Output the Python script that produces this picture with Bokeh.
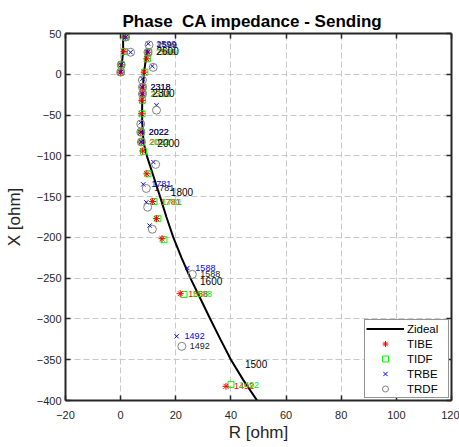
from bokeh.plotting import figure
from bokeh.models import (ColumnDataSource, LinearAxis, Range1d, Legend, LegendItem,
                          FixedTicker)
from bokeh.embed import file_html
from bokeh.resources import INLINE
from bokeh.core.properties import value

# ---------------- data ----------------
x_ticks = [-20, 0, 20, 40, 60, 80, 100, 120]
y_ticks = [-400, -350, -300, -250, -200, -150, -100, -50, 0, 50]

# ideal impedance curve (two visible branches)
zideal_R_a = [1.0, 0.9, 0.9, 0.6, 0.2, 0.0]
zideal_X_a = [50, 40, 28, 18, 10, 2]
zideal_R_b = [9.8, 9.2, 8.6, 8.2, 7.9, 7.8, 7.8, 8.0, 8.4, 9.5, 11.9, 14.3, 16.6, 19.1,
              22.1, 25.3, 28.9, 32.5, 36.2, 40.0, 44.5, 49.5]
zideal_X_b = [32, 20, 5, -10, -25, -40, -55, -70, -85, -100, -125, -150, -175, -200,
              -225, -250, -275, -300, -325, -350, -375, -400]
zideal_lbl = ["2600", "2300", "2000", "1800", "1600", "1500"]
zideal_lbl_R = [10.1, 8.6, 10.4, 15.3, 25.9, 42.2]
zideal_lbl_X = [29, -23, -84, -144, -253, -355]

TIBE_R = [1.8, 1.2, 0.2, 0.0, 9.9, 9.5, 8.5, 7.9, 7.9, 7.7, 7.6, 7.3, 7.5, 8.0, 9.5, 11.6, 13.0, 15.0, 21.6, 38.2]
TIBE_X = [45.5, 28, 11.6, 2.6, 27, 19, 2.6, -15.8, -24, -32, -48.4, -71, -83, -94, -122, -156, -177, -201.6, -269, -382.6]
TIDF_R = [1.9, 1.4, 0.3, 0.1, 10.2, 9.7, 8.8, 8.1, 8.1, 7.9, 7.8, 7.5, 7.7, 8.3, 9.9, 12.1, 13.5, 15.7, 23.0, 40.0]
TIDF_X = [45.5, 28, 11.6, 2.6, 27, 19, 2.6, -15.8, -24, -32, -48.4, -71, -83, -94.5, -122, -156, -177, -202.8, -270, -380.5]
TRBE_R = [1.8, 3.6, 0.2, 0.0, 10.0, 9.9, 11.5, 7.9, 7.9, 7.9, 13.0, 7.3, 7.3, 7.5, 11.9, 8.2, 9.3, 10.5, 24.2, 20.3]
TRBE_X = [45.5, 27, 11.6, 2.6, 37.5, 27, 10, -5.5, -15.8, -24, -38, -59, -71, -83, -107.7, -135, -157, -185.5, -237.6, -321.3]
TRDF_R = [1.8, 3.6, 0.2, 0.0, 10.3, 9.9, 11.8, 7.9, 7.9, 7.9, 13.0, 7.3, 7.3, 7.5, 12.7, 9.3, 9.8, 11.5, 26.0, 22.2]
TRDF_X = [45.5, 27, 11.6, 2.6, 36, 27, 8.5, -7, -15.8, -24, -44, -61, -71, -83, -110.5, -140, -163, -190, -245.3, -333.6]

label_idx = [4, 8, 12, 15, 18, 19]
label_txt = ["2599", "2318", "2022", "1781", "1588", "1492"]

title_text = "Phase\u00a0\u00a0CA impedance - Sending"

# ---------------- figure ----------------
FONT = "Liberation Sans"
AX = "#262626"

p = figure(width=459, height=447, x_range=Range1d(-20, 120), y_range=Range1d(-400, 50),
           output_backend="svg", toolbar_location=None,
           min_border_left=65, min_border_right=8, min_border_top=33, min_border_bottom=47)
p.outline_line_color = None
p.background_fill_color = "white"
p.border_fill_color = "white"

p.title.text = title_text
p.title.text_font = FONT
p.title.text_font_size = "17px"
p.title.text_font_style = "bold"
p.title.text_color = "black"
p.title.align = "left"
p.title.offset = 57
p.title.standoff = 5

for ax, ticks in ((p.xaxis[0], x_ticks), (p.yaxis[0], y_ticks)):
    ax.ticker = FixedTicker(ticks=ticks)
    ax.major_tick_in = 5
    ax.major_tick_out = 0
    ax.minor_tick_line_color = None
    ax.axis_line_width = 2
    ax.axis_line_color = AX
    ax.major_tick_line_color = AX
    ax.major_tick_line_width = 1.5
    ax.major_label_text_font = FONT
    ax.major_label_text_font_size = "11px"
    ax.major_label_text_color = AX
    ax.axis_label_text_font = FONT
    ax.axis_label_text_font_size = "17px"
    ax.axis_label_text_font_style = "normal"
    ax.axis_label_text_color = AX

p.xaxis.axis_label = "R [ohm]"
p.yaxis.axis_label = "X [ohm]"
p.xaxis.major_label_standoff = 10
p.xaxis.axis_label_standoff = 1
p.yaxis.major_label_standoff = 4
p.yaxis.axis_label_standoff = 10

for loc, ticks in (("above", x_ticks), ("right", y_ticks)):
    ax = LinearAxis(ticker=FixedTicker(ticks=ticks), major_tick_in=5, major_tick_out=0,
                    minor_tick_line_color=None, axis_line_width=2, axis_line_color=AX,
                    major_tick_line_color=AX, major_tick_line_width=1.5,
                    major_label_text_color=None, major_label_text_font_size="1px",
                    major_label_standoff=0)
    p.add_layout(ax, loc)

p.xgrid.ticker = FixedTicker(ticks=x_ticks)
p.ygrid.ticker = FixedTicker(ticks=y_ticks)
p.grid.grid_line_color = "#c8c8c8"
p.grid.grid_line_dash = "6 3"
p.grid.grid_line_width = 1

# ---------------- glyphs ----------------
l_a = p.line(zideal_R_a, zideal_X_a, line_color="black", line_width=2)
l_b = p.line(zideal_R_b, zideal_X_b, line_color="black", line_width=2)

r_tidf = p.scatter(TIDF_R, TIDF_X, marker="square", size=6, fill_color=None,
                   line_color="#00ff00", line_width=1)
r_tibe = p.scatter(TIBE_R, TIBE_X, marker="asterisk", size=7, line_color="#ff0000",
                   line_width=1)
r_trbe = p.scatter(TRBE_R, TRBE_X, marker="x", size=6, line_color="#0000ff", line_width=1)
r_trdf = p.scatter(TRDF_R, TRDF_X, marker="circle", size=8, fill_color=None,
                   line_color="#808080", line_width=1)

def lbl_src(R, X):
    return ColumnDataSource(dict(x=[R[i] for i in label_idx], y=[X[i] for i in label_idx],
                                 t=label_txt))

for R, X, col in ((TIBE_R, TIBE_X, "#ff0000"), (TIDF_R, TIDF_X, "#00e600"),
                  (TRBE_R, TRBE_X, "#0000ff"), (TRDF_R, TRDF_X, "#1a1a1a")):
    p.text(x="x", y="y", text="t", source=lbl_src(R, X), x_offset=8,
           text_baseline="middle", text_font=value(FONT), text_font_size="9px",
           text_color=col)

p.text(x=zideal_lbl_R, y=zideal_lbl_X, text=zideal_lbl, x_offset=8,
       text_baseline="middle", text_font=value(FONT), text_font_size="10px",
       text_color="black")

# ---------------- legend ----------------
legend = Legend(items=[LegendItem(label="Zideal", renderers=[l_b]),
                       LegendItem(label="TIBE", renderers=[r_tibe]),
                       LegendItem(label="TIDF", renderers=[r_tidf]),
                       LegendItem(label="TRBE", renderers=[r_trbe]),
                       LegendItem(label="TRDF", renderers=[r_trdf])],
                location="bottom_right")
legend.border_line_color = AX
legend.border_line_width = 1
legend.background_fill_color = "white"
legend.background_fill_alpha = 1
legend.label_text_font = FONT
legend.label_text_font_size = "11.5px"
legend.label_text_color = "black"
legend.glyph_width = 38
legend.glyph_height = 15
legend.label_height = 15
legend.label_width = 40
legend.label_standoff = 3
legend.spacing = 0
legend.padding = 1
legend.margin = 2
p.add_layout(legend)

open("out.html", "w").write(file_html(p, INLINE))
